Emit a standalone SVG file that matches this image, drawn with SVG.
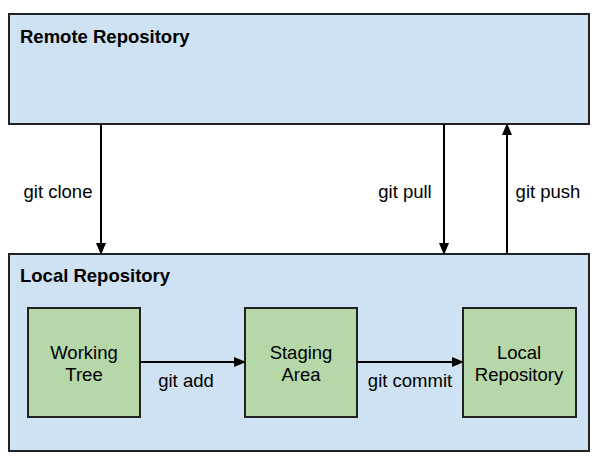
<svg xmlns="http://www.w3.org/2000/svg" width="599" height="458" viewBox="0 0 599 458">
<style>
.box{fill:#cfe2f3;stroke:#222;stroke-width:2}
.inner{fill:#b6d7a8;stroke:#222;stroke-width:2}
.title{font-family:"Liberation Sans",Arial,sans-serif;font-size:18.5px;font-weight:bold;fill:#000}
.lbl{font-family:"Liberation Sans",Arial,sans-serif;font-size:18.5px;fill:#000;text-anchor:middle}
.edge{stroke:#000;stroke-width:2;fill:none;marker-end:url(#ah)}
</style>
<defs>
<marker id="ah" markerWidth="12" markerHeight="12" viewBox="0 0 12 12" refX="11" refY="6" orient="auto" markerUnits="userSpaceOnUse">
<path d="M0,1 L12,6 L0,11 Z" fill="#000"/>
</marker>
</defs>
<g id="remote">
<rect class="box" x="9" y="14" width="580" height="110"/>
<text class="title" x="20" y="43">Remote Repository</text>
</g>
<g id="local">
<rect class="box" x="9" y="254" width="580" height="197"/>
<text class="title" x="20" y="282">Local Repository</text>
</g>
<g id="working">
<rect class="inner" x="28" y="308" width="112" height="109"/>
<text class="lbl" x="84" y="359">Working</text>
<text class="lbl" x="84" y="381">Tree</text>
</g>
<g id="staging">
<rect class="inner" x="245" y="308" width="112" height="109"/>
<text class="lbl" x="301" y="359">Staging</text>
<text class="lbl" x="301" y="381">Area</text>
</g>
<g id="localrepo">
<rect class="inner" x="463" y="308" width="113" height="109"/>
<text class="lbl" x="519" y="359">Local</text>
<text class="lbl" x="519" y="381">Repository</text>
</g>
<g id="connectors">
<line class="edge" x1="101" y1="124" x2="101" y2="254"/>
<line class="edge" x1="444" y1="124" x2="444" y2="254"/>
<line class="edge" x1="507" y1="254" x2="507" y2="124"/>
<line class="edge" x1="140" y1="362" x2="245" y2="362"/>
<line class="edge" x1="357" y1="362" x2="463" y2="362"/>
<text class="lbl" x="58" y="198">git clone</text>
<text class="lbl" x="405" y="198">git pull</text>
<text class="lbl" x="548" y="198">git push</text>
<text class="lbl" x="186" y="387">git add</text>
<text class="lbl" x="410" y="387">git commit</text>
</g>
</svg>
